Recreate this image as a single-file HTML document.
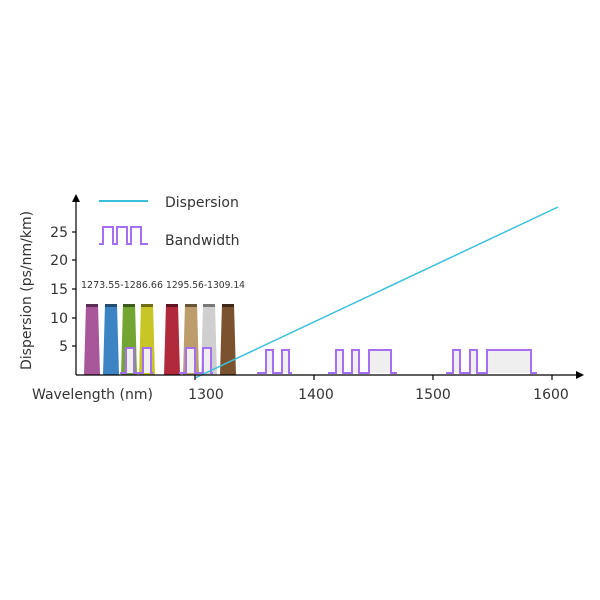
<!DOCTYPE html><html><head><style>body{margin:0;background:#fff}svg{display:block}text{font-family:"DejaVu Sans","Liberation Sans",sans-serif;fill:#333}</style></head><body>
<svg width="600" height="600" viewBox="0 0 600 600">
<g>
<path d="M86,304H98L100,375H84Z" fill="#a8579b"/><rect x="86" y="304" width="12" height="3" fill="#5a2d55"/>
<path d="M105,304H117L119,375H103Z" fill="#3c84c4"/><rect x="105" y="304" width="12" height="3" fill="#234a70"/>
<path d="M123,304H135L137,375H121Z" fill="#72a532"/><rect x="123" y="304" width="12" height="3" fill="#3e5a1c"/>
<path d="M141,304H153L155,375H139Z" fill="#c8c627"/><rect x="141" y="304" width="12" height="3" fill="#6e6c15"/>
<path d="M166,304H178L180,375H164Z" fill="#b02a3c"/><rect x="166" y="304" width="12" height="3" fill="#601620"/>
<path d="M185,304H197L199,375H183Z" fill="#bd9d6c"/><rect x="185" y="304" width="12" height="3" fill="#675638"/>
<path d="M203,304H215L217,375H201Z" fill="#cfcfcf"/><rect x="203" y="304" width="12" height="3" fill="#777"/>
<path d="M222,304H234L236,375H220Z" fill="#7a5230"/><rect x="222" y="304" width="12" height="3" fill="#40291a"/>
</g>
<text x="81" y="288" font-size="10" textLength="82" lengthAdjust="spacingAndGlyphs">1273.55-1286.66</text>
<text x="166" y="288" font-size="10" textLength="79" lengthAdjust="spacingAndGlyphs">1295.56-1309.14</text>
<g fill="#efefef" stroke="#a66ef0" stroke-width="2">
<path d="M120,373H126V348H134V373H143V348H151V373H153"/>
<path d="M179,373H186V348H195V373H203V348H211V373H213"/>
<path d="M257,373H266V350H273V373H282V350H289V373H292"/>
<path d="M328,373H336V350H343V373H352V350H359V373H369V350H391V373H397"/>
<path d="M446,373H453V350H460V373H470V350H477V373H487V350H531V373H537"/>
</g>
<line x1="195" y1="378" x2="558" y2="207" stroke="#3bc0dc" stroke-width="1.5"/>
<g stroke="#000" stroke-width="1.2">
<line x1="76" y1="375" x2="578" y2="375"/>
<line x1="76" y1="375" x2="76" y2="200"/>
<line x1="195" y1="375" x2="195" y2="380"/><line x1="314" y1="375" x2="314" y2="380"/><line x1="433" y1="375" x2="433" y2="380"/><line x1="552" y1="375" x2="552" y2="380"/>
<line x1="72" y1="346" x2="76" y2="346"/><line x1="72" y1="318" x2="76" y2="318"/><line x1="72" y1="289" x2="76" y2="289"/><line x1="72" y1="260" x2="76" y2="260"/><line x1="72" y1="232" x2="76" y2="232"/>
</g>
<path d="M584,375L576,371V379Z" fill="#000"/>
<path d="M76,194L72,202H80Z" fill="#000"/>
<g font-size="14" text-anchor="end">
<text x="68" y="351">5</text><text x="68" y="323">10</text><text x="68" y="294">15</text><text x="68" y="265">20</text><text x="68" y="237">25</text>
</g>
<g font-size="14" text-anchor="middle">
<text x="206" y="399">1300</text><text x="316" y="399">1400</text><text x="433" y="399">1500</text><text x="551" y="399">1600</text>
</g>
<text x="32" y="399" font-size="14">Wavelength (nm)</text>
<text transform="translate(31,370) rotate(-90)" font-size="14">Dispersion (ps/nm/km)</text>
<line x1="99" y1="201" x2="148" y2="201" stroke="#3bc0dc" stroke-width="2"/>
<text x="165" y="207" font-size="14">Dispersion</text>
<path d="M99,244H103V227H113V244H117V227H127V244H131V227H141V244H148" fill="none" stroke="#a66ef0" stroke-width="2"/>
<text x="165" y="245" font-size="14">Bandwidth</text>
</svg></body></html>
